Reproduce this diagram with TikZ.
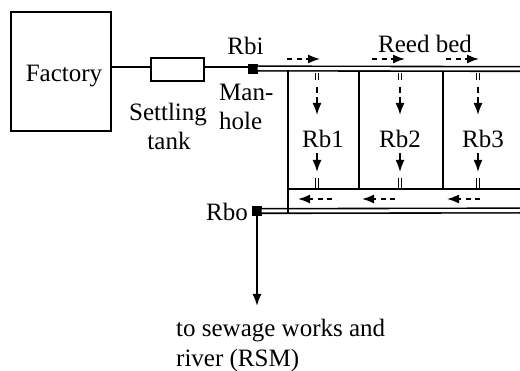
\documentclass[tikz,border=0pt]{standalone}
\usepackage{fontspec}
\setmainfont{Liberation Serif}
\usetikzlibrary{arrows.meta}
\begin{document}
\begin{tikzpicture}[x=1pt,y=-1pt,
  lbl/.style={font=\fontsize{25}{29}\selectfont, inner sep=0pt, anchor=base},
  boxnode/.style={draw, line width=2.2pt, inner sep=0pt},
  sq/.style={fill=black, draw=black, minimum size=9pt, inner sep=0pt},
  pline/.style={line width=2pt},
  pipe/.style={double, double distance=3pt, line width=1.6pt},
  wall/.style={line width=1.8pt},
  flow/.style={line width=1.6pt, dash pattern=on 5pt off 4.5pt, -{Latex[length=12pt,width=9pt]}},
  solidflow/.style={line width=1.6pt, -{Latex[length=12pt,width=9pt]}},
  tick/.style={line width=1.2pt}]
\useasboundingbox (0,0) rectangle (520,371);

% factory and settling tank
\node[boxnode, minimum width=100pt, minimum height=119pt] (factory) at (61,71.5) {};
\node[lbl] (factorytxt) at (64,82) {Factory};
\node[boxnode, line width=1.8pt, minimum width=53pt, minimum height=23pt] (tank) at (177.5,69.5) {};
\node[lbl] (settl) at (168,121) {Settling};
\node[lbl] (tanktxt) at (169,150) {tank};

% manholes
\node[sq] (rbi) at (253,68.5) {};
\node[sq] (rbo) at (257,211) {};
\node[lbl] (rbitxt) at (245.5,55) {Rbi};
\node[lbl, anchor=base west] (man) at (219,101) {Man-};
\node[lbl, anchor=base west] (hole) at (219,130) {hole};
\node[lbl] (rbotxt) at (227,221) {Rbo};

% connections factory -> tank -> manhole
\coordinate (tl) at (tank.west |- 0,67.5);
\coordinate (tr) at (tank.east |- 0,67.5);
\draw[pline] (factory.east |- tl) -- (tl);
\draw[pline] (tr) -- (rbi.west |- tr);

% pipes
\coordinate (inEnd) at (520,69);
\coordinate (outEnd) at (520,210.5);
\draw[pipe] (rbi.east) -- (inEnd);
\draw[pipe] (rbo.east) -- (outEnd);

% reed bed walls
\coordinate (wl1) at (288,70);
\coordinate (wl2) at (288,213);
\draw[wall] (wl1) -- (wl2);
\coordinate (d1a) at (359,72);
\coordinate (d1b) at (359,189);
\coordinate (d2a) at (443,72);
\coordinate (d2b) at (443,189);
\draw[wall] (d1a) -- (d1b);
\draw[wall] (d2a) -- (d2b);
\coordinate (cl) at (288,189);
\coordinate (cr) at (520,189);
\draw[wall] (cl) -- (cr);

\node[lbl] (reedbed) at (425,53) {Reed bed};
\node[lbl] (rb1) at (323,148) {Rb1};
\node[lbl] (rb2) at (400,148) {Rb2};
\node[lbl] (rb3) at (483,148) {Rb3};

% flows along the inlet pipe
\foreach \a/\b in {287/320, 372/405, 446/479}{
  \draw[flow] (\a,59) -- (\b,59);
}
% flows along the outlet channel
\foreach \a/\b in {332/298, 395/362, 480/447}{
  \draw[flow] (\a,199) -- (\b,199);
}
% vertical flows through the beds
\foreach \x in {317, 400, 478}{
  \draw[tick] (\x-1.7,73) -- (\x-1.7,80);
  \draw[tick] (\x+1.7,73) -- (\x+1.7,80);
  \draw[flow, dash pattern=on 6pt off 4.5pt] (\x,87) -- (\x,115);
  \draw[solidflow] (\x,153) -- (\x,172);
  \draw[tick] (\x-1.7,178) -- (\x-1.7,188);
  \draw[tick] (\x+1.7,178) -- (\x+1.7,188);
}

% outlet to sewage works
\coordinate (sewage) at (257,306);
\draw[solidflow, line width=1.8pt] (rbo.south) -- (sewage);
\node[lbl, anchor=base west] (dest1) at (176,337) {to sewage works and};
\node[lbl, anchor=base west] (dest2) at (176,367) {river (RSM)};
\end{tikzpicture}
\end{document}
